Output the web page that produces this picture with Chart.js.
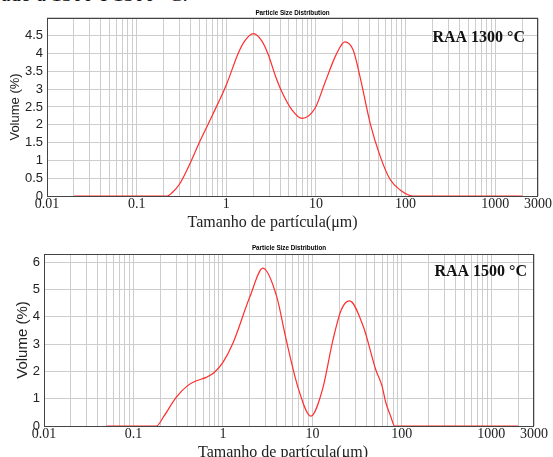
<!DOCTYPE html>
<html>
<head>
<meta charset="utf-8">
<script src="https://cdn.jsdelivr.net/npm/chart.js@4"></script>
<style>
  html, body { margin: 0; padding: 0; background: #fff; overflow: hidden; }
  body { width: 553px; height: 457px; position: relative; }
  canvas { position: absolute; left: 0; }
  #cut { position: absolute; left: 1px; top: -16.5px; font: 21px/20px "Liberation Serif", serif; color: #111; white-space: nowrap; }
</style>
</head>
<body>
<div id="cut">ado a 1300 e 1500 °C.</div>
<canvas id="c1300" width="553" height="232" style="top:0"></canvas>
<canvas id="c1500" width="553" height="240" style="top:232px"></canvas>
<script>
// ── Data ──────────────────────────────────────────────────
const xLabels = [0.01, 0.1, 1, 10, 100, 1000, 3000];
const decades = [0.01, 0.1, 1, 10, 100, 1000];

const size1300 = [0.02, 0.05, 0.1, 0.2, 0.22, 0.25, 0.3, 0.4, 0.5, 0.7, 1.0, 1.36, 1.6, 2.0, 2.5, 2.95, 3.5, 4.16, 5.4, 7.0, 9.8, 12.6, 16.8, 21, 26, 32, 40, 52, 67, 87, 120, 200, 500, 1000, 2000];
const vol1300  = [0, 0, 0, 0, 0, 0.1, 0.33, 0.95, 1.5, 2.27, 3.12, 4.01, 4.35, 4.56, 4.35, 3.96, 3.4, 2.93, 2.42, 2.18, 2.47, 3.18, 3.97, 4.33, 4.1, 3.2, 2.07, 1.12, 0.47, 0.17, 0, 0, 0, 0, 0];
const yTicks1300 = [0, 0.5, 1, 1.5, 2, 2.5, 3, 3.5, 4, 4.5, 5];

const size1500 = [0.05, 0.1, 0.15, 0.18, 0.22, 0.3, 0.4, 0.5, 0.65, 0.8, 1.0, 1.3, 2.0, 2.8, 4.0, 5.0, 7.0, 9.6, 13, 17, 21, 26, 37, 51, 60, 66, 75, 83, 120, 300, 1000, 2000];
const vol1500  = [0, 0, 0, 0, 0.37, 1.05, 1.47, 1.65, 1.78, 1.96, 2.33, 3.05, 4.73, 5.78, 4.73, 3.28, 1.35, 0.36, 1.35, 3.16, 4.25, 4.58, 3.65, 2.07, 1.47, 0.87, 0.36, 0, 0, 0, 0, 0];
const yTicks1500 = [0, 1, 2, 3, 4, 5, 6];

// log grid: 1..9 in every decade, up to 3000
const xGrid = [];
decades.forEach(d => {
  for (let k = 1; k <= 9; k++) {
    const v = +(k * d).toPrecision(3);
    if (v <= 3000) xGrid.push(v);
  }
});

const GRID = '#cdcdcd';
const INK = '#222';

// frame round the plot + the sample label
const frame = {
  id: 'frame',
  beforeDatasetsDraw(chart) {
    const a = chart.chartArea, ctx = chart.ctx;
    ctx.save();
    ctx.strokeStyle = '#444';
    ctx.lineWidth = 1;
    ctx.strokeRect(Math.round(a.left) + 0.5, Math.round(a.top) + 0.5,
                   Math.round(a.right - a.left) - 1, Math.round(a.bottom - a.top));
    ctx.restore();
  },
  afterDraw(chart, args, opts) {
    const a = chart.chartArea, ctx = chart.ctx;
    ctx.save();
    ctx.font = 'bold 16px "Liberation Serif", serif';
    ctx.fillStyle = '#111';
    ctx.textAlign = 'right';
    ctx.textBaseline = 'middle';
    ctx.fillText(opts.text, a.right - opts.dx, a.top + opts.dy);
    ctx.restore();
  }
};

function makeChart(id, o) {
  return new Chart(document.getElementById(id), {
    type: 'line',
    data: {
      datasets: [{
        data: o.sizes.map((s, i) => ({ x: s, y: o.vols[i] })),
        borderColor: 'rgb(255,45,45)',
        borderWidth: 1.2,
        pointRadius: 0,
        cubicInterpolationMode: 'monotone',
        fill: false,
      }],
    },
    plugins: [frame],
    options: {
      responsive: false,
      animation: false,
      layout: { padding: { left: 0, right: o.padRight, top: 0, bottom: 0 } },
      scales: {
        x: {
          type: 'logarithmic',
          min: 0.01, max: 3000,
          afterBuildTicks: s => { s.ticks = xGrid.map(v => ({ value: v })); },
          afterFit: s => { s.height = o.xHeight; },
          grid: { color: GRID, drawTicks: false },
          border: { display: false },
          ticks: {
            autoSkip: false, maxRotation: 0, padding: 0,
            color: INK,
            font: { family: '"Liberation Serif", serif', size: 14 },
            callback: v => xLabels.includes(v) ? String(v) : '',
          },
          title: {
            display: true,
            text: 'Tamanho de partícula(μm)' + o.xTitlePad,
            color: INK,
            font: { family: '"Liberation Serif", serif', size: 16 },
            padding: { top: 0, bottom: o.xTitleBottom },
          },
        },
        y: {
          min: 0, max: o.yMax,
          afterBuildTicks: s => { s.ticks = o.yTicks.map(v => ({ value: v })); },
          afterFit: s => { s.width = o.yWidth; },
          grid: { color: GRID, drawTicks: false },
          border: { display: false },
          ticks: {
            autoSkip: false,
            padding: 4,
            color: INK,
            font: { family: '"Liberation Sans", sans-serif', size: 13 },
            callback: v => v < o.yMax - 0.01 ? String(v) : '',
          },
          title: {
            display: true,
            text: 'Volume (%)',
            color: INK,
            font: { family: '"Liberation Sans", sans-serif', size: o.yTitleSize },
            padding: { top: o.yTitleTop, bottom: 0 },
          },
        },
      },
      plugins: {
        legend: { display: false },
        tooltip: { enabled: false },
        title: {
          display: true,
          fullSize: false,
          text: 'Particle Size Distribution',
          color: '#000',
          font: { family: '"Liberation Sans", sans-serif', size: 6.3, weight: 'bold' },
          padding: { top: o.titleTop, bottom: o.titleBottom },
        },
        frame: { text: o.label, dx: o.labelDx, dy: o.labelDy },
      },
    },
  });
}

makeChart('c1300', {
  sizes: size1300, vols: vol1300, yTicks: yTicks1300, yMax: 5,
  label: 'RAA 1300 °C', labelDx: 13, labelDy: 20,
  padRight: 15, xHeight: 36, yWidth: 47,
  xTitlePad: '\u00a0'.repeat(10), xTitleBottom: 0,
  yTitleSize: 13, yTitleTop: 8,
  titleTop: 9.5, titleBottom: 0.9,
});

makeChart('c1500', {
  sizes: size1500, vols: vol1500, yTicks: yTicks1500, yMax: 6.3,
  label: 'RAA 1500 °C', labelDx: 7, labelDy: 18,
  padRight: 19, xHeight: 46, yWidth: 44,
  xTitlePad: '\u00a0'.repeat(3), xTitleBottom: 10,
  yTitleSize: 15, yTitleTop: 14,
  titleTop: 12.2, titleBottom: 2.2,
});
</script>
</body>
</html>
